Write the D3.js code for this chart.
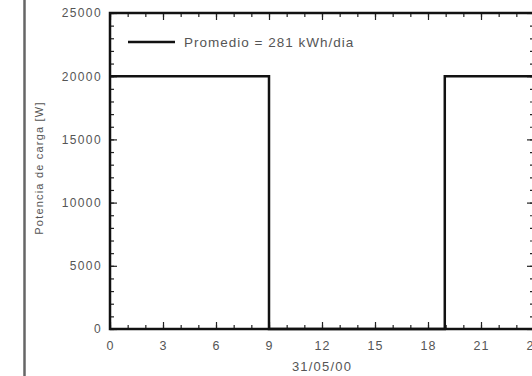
<!DOCTYPE html>
<html>
<head>
<meta charset="utf-8">
<script src="https://cdn.jsdelivr.net/npm/d3@7"></script>
<style>
  html, body { margin: 0; padding: 0; background: #fff; }
  svg { display: block; }
  text { font-family: "Liberation Sans", Arial, sans-serif; fill: #555; }
</style>
</head>
<body>
<svg id="chart" width="532" height="376"></svg>
<script>
// Load profile for one day: power level held from each switch time to the next
const switchHours = [0, 9.0, 18.95, 24];
const powerLevels = [20000, 0, 20000, 20000];
const xTickValues = [0, 3, 6, 9, 12, 15, 18, 21, 24];
const yTickValues = [0, 5000, 10000, 15000, 20000, 25000];
const legendLabel = "Promedio = 281 kWh/dia";
const xTitle = "31/05/00";
const yTitle = "Potencia de carga [W]";

(function draw() {
  const svg = d3.select("#chart");
  const H = 376;
  const pLeft = 110, pRight = 534, pTop = 13, pBottom = 329;

  const x = d3.scaleLinear().domain([0, 24]).range([pLeft, pRight]);
  const y = d3.scaleLinear().domain([0, 25000]).range([pBottom, pTop]);

  // outer frame edge on the left
  svg.append("line")
    .attr("x1", 24.5).attr("x2", 24.5).attr("y1", 0).attr("y2", H)
    .attr("stroke", "#666").attr("stroke-width", 2.5);

  const minorX = d3.range(0, 25, 1);
  const minorY = d3.range(0, 25001, 1000);

  function styleAxis(g) {
    g.select(".domain").remove();
    g.selectAll(".tick line").attr("stroke", "#222").attr("stroke-width", 1.2);
  }

  // minor ticks (inward)
  svg.append("g").attr("transform", `translate(0,${pBottom})`)
    .call(d3.axisBottom(x).tickValues(minorX).tickSize(-4).tickFormat(""))
    .call(styleAxis);
  svg.append("g").attr("transform", `translate(0,${pTop})`)
    .call(d3.axisTop(x).tickValues(minorX).tickSize(-4).tickFormat(""))
    .call(styleAxis);
  svg.append("g").attr("transform", `translate(${pLeft},0)`)
    .call(d3.axisLeft(y).tickValues(minorY).tickSize(-4).tickFormat(""))
    .call(styleAxis);
  svg.append("g").attr("transform", `translate(${pRight},0)`)
    .call(d3.axisRight(y).tickValues(minorY).tickSize(-4).tickFormat(""))
    .call(styleAxis);

  // major ticks with labels
  const xAxis = svg.append("g").attr("transform", `translate(0,${pBottom})`)
    .call(d3.axisBottom(x).tickValues(xTickValues).tickSize(-7).tickPadding(12).tickFormat(d3.format("d")))
    .call(styleAxis);
  xAxis.selectAll(".tick text").attr("font-size", 12.5).attr("fill", "#555")
    .style("letter-spacing", "1px");

  svg.append("g").attr("transform", `translate(0,${pTop})`)
    .call(d3.axisTop(x).tickValues(xTickValues).tickSize(-7).tickFormat(""))
    .call(styleAxis);

  const yAxis = svg.append("g").attr("transform", `translate(${pLeft},0)`)
    .call(d3.axisLeft(y).tickValues(yTickValues).tickSize(-7).tickPadding(8).tickFormat(d3.format("d")))
    .call(styleAxis);
  yAxis.selectAll(".tick text").attr("font-size", 12).attr("fill", "#555")
    .style("letter-spacing", "1.4px");

  svg.append("g").attr("transform", `translate(${pRight},0)`)
    .call(d3.axisRight(y).tickValues(yTickValues).tickSize(-7).tickFormat(""))
    .call(styleAxis);

  // plot frame
  svg.append("rect")
    .attr("x", pLeft).attr("y", pTop)
    .attr("width", pRight - pLeft).attr("height", pBottom - pTop)
    .attr("fill", "none").attr("stroke", "#111").attr("stroke-width", 2.5);

  // load step line
  const pts = switchHours.map((h, i) => [h, powerLevels[i]]);
  const line = d3.line().x(d => x(d[0])).y(d => y(d[1])).curve(d3.curveStepAfter);
  svg.append("path").datum(pts)
    .attr("d", line)
    .attr("fill", "none").attr("stroke", "#111").attr("stroke-width", 2.5);

  // legend
  svg.append("line")
    .attr("x1", 128).attr("x2", 175).attr("y1", 42).attr("y2", 42)
    .attr("stroke", "#111").attr("stroke-width", 2.5);
  svg.append("text")
    .attr("x", 184).attr("y", 47)
    .attr("font-size", 13.5).style("letter-spacing", "1px")
    .text(legendLabel);

  // axis titles
  svg.append("text")
    .attr("x", 322).attr("y", 371)
    .attr("text-anchor", "middle").attr("font-size", 13).style("letter-spacing", "1.2px")
    .text(xTitle);
  svg.append("text")
    .attr("transform", `translate(43,168) rotate(-90)`)
    .attr("text-anchor", "middle").attr("font-size", 11).style("letter-spacing", "1.2px")
    .text(yTitle);
})();
</script>
</body>
</html>
